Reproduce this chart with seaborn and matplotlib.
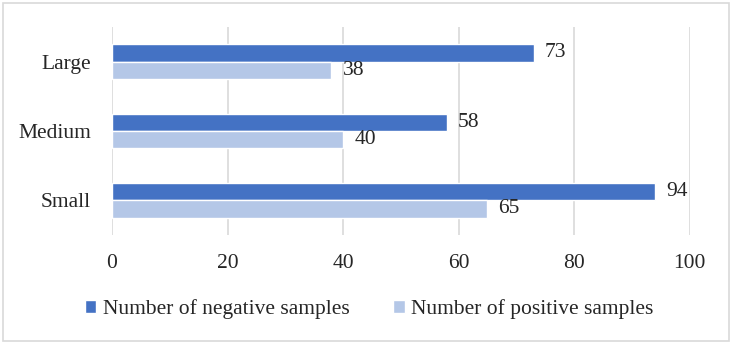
import pandas as pd
import seaborn as sns
import matplotlib.pyplot as plt
from matplotlib.patches import Rectangle

sizes = ["Large", "Medium", "Small"]
negative = [73, 58, 94]
positive = [38, 40, 65]
series = ["Number of negative samples", "Number of positive samples"]

df = pd.DataFrame({
    "size": sizes * 2,
    "count": negative + positive,
    "series": [series[0]] * 3 + [series[1]] * 3,
})

sns.set_style("white")
plt.rcParams["font.family"] = ["Liberation Serif", "DejaVu Serif"]
fs = 15.5

fig = plt.figure(figsize=(7.32, 3.44), dpi=100)
ax = fig.add_axes([0.153, 0.317, 0.789, 0.605])

sns.barplot(data=df, y="size", x="count", hue="series", order=sizes,
            hue_order=series, palette=["#4472C4", "#B4C7E7"], saturation=1,
            width=0.5, orient="h", ax=ax)

for c in ax.containers:
    ax.bar_label(c, padding=8, fontsize=fs)

ax.set_xlim(0, 100)
ax.set_xticks(range(0, 101, 20))
ax.xaxis.grid(True, color="#d9d9d9", linewidth=1.2)
ax.set_axisbelow(True)
for s in ax.spines.values():
    s.set_visible(False)
ax.set_xlabel("")
ax.set_ylabel("")
ax.tick_params(axis="both", labelsize=fs, length=0)
ax.tick_params(axis="x", pad=14)
ax.tick_params(axis="y", pad=15)

ax.legend(loc="upper center", bbox_to_anchor=(0.445, -0.215), ncol=2,
          frameon=False, fontsize=fs, handlelength=0.55, handleheight=0.55,
          columnspacing=2.0, handletextpad=0.3)

fig.patches.append(Rectangle((0.004, 0.008), 0.992, 0.984, transform=fig.transFigure,
                             fill=False, edgecolor="#d9d9d9", linewidth=1.2))

fig.savefig("out.png", dpi=100)
